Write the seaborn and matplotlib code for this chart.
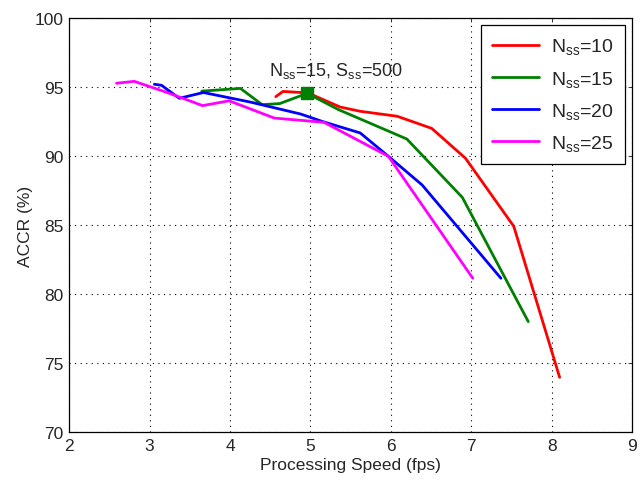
import matplotlib
matplotlib.use("Agg")
import matplotlib.pyplot as plt
import seaborn as sns
import pandas as pd

# Data
speed_10 = [4.57, 4.66, 4.97, 5.37, 5.62, 6.08, 6.51, 6.93, 7.53, 8.10]
accr_10 = [94.3, 94.68, 94.57, 93.55, 93.24, 92.88, 92.0, 89.83, 84.9, 73.96]

speed_15 = [3.65, 4.13, 4.40, 4.62, 4.96, 5.35, 6.20, 6.89, 7.71]
accr_15 = [94.7, 94.9, 93.72, 93.8, 94.54, 93.36, 91.23, 87.0, 78.0]

speed_20 = [3.06, 3.15, 3.37, 3.67, 4.26, 4.88, 5.15, 5.62, 5.97, 6.39, 7.37]
accr_20 = [95.2, 95.12, 94.18, 94.6, 93.9, 93.04, 92.5, 91.67, 89.98, 87.9, 81.14]

speed_25 = [2.59, 2.81, 3.22, 3.66, 3.99, 4.55, 5.17, 5.97, 7.02]
accr_25 = [95.27, 95.41, 94.6, 93.65, 94.0, 92.75, 92.44, 89.98, 81.14]

labels = [r"N$_{ss}$=10", r"N$_{ss}$=15", r"N$_{ss}$=20", r"N$_{ss}$=25"]
colors = ["#ff0000", "#008000", "#0000ff", "#ff00ff"]

marker_x = [4.96]
marker_y = [94.54]
annot_text = r"N$_{ss}$=15, S$_{ss}$=500"

xticks = [2, 3, 4, 5, 6, 7, 8, 9]
yticks = [70, 75, 80, 85, 90, 95, 100]

frames = []
for lab, xs, ys in zip(labels,
                       [speed_10, speed_15, speed_20, speed_25],
                       [accr_10, accr_15, accr_20, accr_25]):
    frames.append(pd.DataFrame({"speed": xs, "accr": ys, "series": lab}))
df = pd.concat(frames, ignore_index=True)

sns.set_style("white")
plt.rcParams["font.family"] = ["Liberation Sans", "DejaVu Sans"]
plt.rcParams["mathtext.fontset"] = "custom"
plt.rcParams["mathtext.rm"] = "Liberation Sans"
plt.rcParams["mathtext.it"] = "Liberation Sans"

fig = plt.figure(figsize=(6.4, 4.81), dpi=100)
ax = fig.add_axes([0.108, 0.0998, 0.8795, 0.8607])

for lab, col in zip(labels, colors):
    sub = df[df["series"] == lab]
    sns.lineplot(data=sub, x="speed", y="accr", sort=False, estimator=None,
                 color=col, linewidth=2.0, ax=ax, label=lab)

ax.plot(marker_x, marker_y, marker="s", color="#008000", markersize=9,
        linestyle="none")
ax.text(4.48, 95.87, annot_text, fontsize=13, va="baseline", ha="left")

ax.set_xlim(2, 9)
ax.set_ylim(70, 100)
ax.set_xticks(xticks)
ax.set_yticks(yticks)
ax.tick_params(direction="in", top=True, right=True, length=3,
               labelsize=12.5, width=0.6, pad=4)
ax.grid(True, linestyle=(0, (1, 4)), color="black", linewidth=0.8)
for s in ax.spines.values():
    s.set_color("black")
    s.set_linewidth(0.9)
ax.set_xlabel("Processing Speed (fps)", fontsize=12.5, labelpad=3)
ax.set_ylabel("ACCR (%)", fontsize=12.5, labelpad=1)

leg = ax.legend(loc="upper right", fontsize=14, frameon=True, fancybox=False,
                edgecolor="black", framealpha=1, handlelength=2.4,
                borderpad=0.6, labelspacing=0.62, borderaxespad=0.35,
                handletextpad=0.6)
leg.get_frame().set_linewidth(0.9)

fig.savefig("out.png", dpi=100)
